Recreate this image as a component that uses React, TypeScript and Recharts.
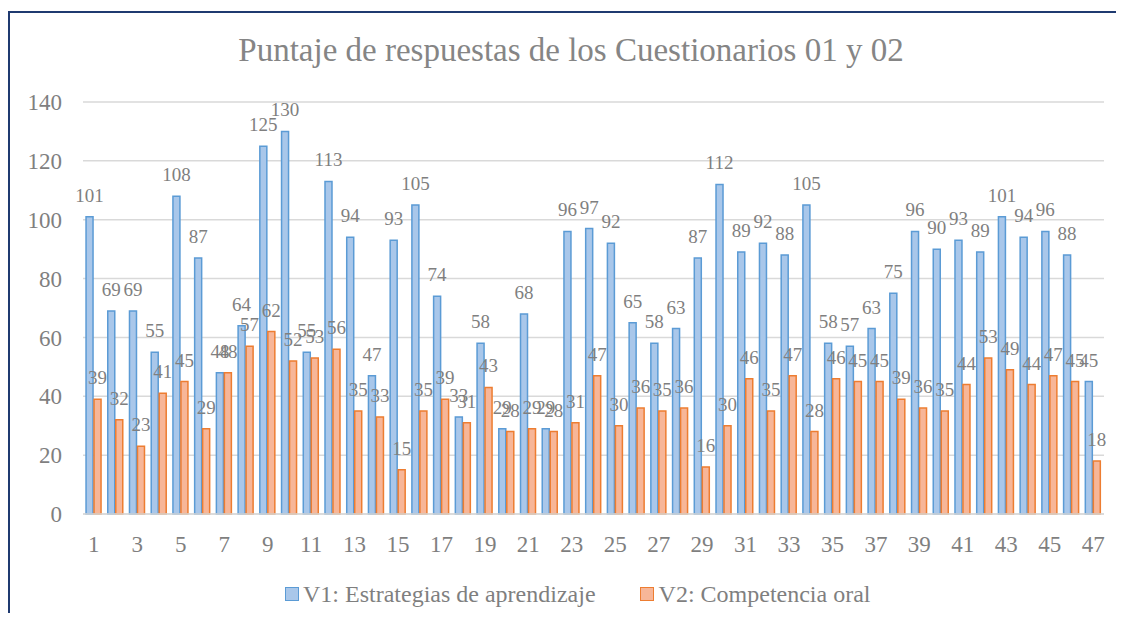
import React from "react";
import {
  Bar,
  BarChart,
  CartesianGrid,
  LabelList,
  XAxis,
  YAxis,
} from "recharts";

const categories = [
  "1", "2", "3", "4", "5", "6", "7", "8", "9", "10",
  "11", "12", "13", "14", "15", "16", "17", "18", "19", "20",
  "21", "22", "23", "24", "25", "26", "27", "28", "29", "30",
  "31", "32", "33", "34", "35", "36", "37", "38", "39", "40",
  "41", "42", "43", "44", "45", "46", "47",
];

const v1Values = [
  101, 69, 69, 55, 108, 87, 48, 64, 125, 130,
  55, 113, 94, 47, 93, 105, 74, 33, 58, 29,
  68, 29, 96, 97, 92, 65, 58, 63, 87, 112,
  89, 92, 88, 105, 58, 57, 63, 75, 96, 90,
  93, 89, 101, 94, 96, 88, 45,
];

const v2Values = [
  39, 32, 23, 41, 45, 29, 48, 57, 62, 52,
  53, 56, 35, 33, 15, 35, 39, 31, 43, 28,
  29, 28, 31, 47, 30, 36, 35, 36, 16, 30,
  46, 35, 47, 28, 46, 45, 45, 39, 36, 35,
  44, 53, 49, 44, 47, 45, 18,
];

const yTicks = [0, 20, 40, 60, 80, 100, 120, 140];

const v1Name = "V1: Estrategias de aprendizaje";
const v2Name = "V2: Competencia oral";
const title = "Puntaje de respuestas de los Cuestionarios 01 y 02";

const data = categories.map((name, i) => ({
  name,
  v1: v1Values[i],
  v2: v2Values[i],
}));

const FONT = "'Liberation Serif', 'Times New Roman', serif";
const GREY = "#7f7f7f";
const BLUE_LINE = "#5b9bd5";
const BLUE_FILL = "#a9c7ea";
const ORANGE_LINE = "#ed7d31";
const ORANGE_FILL = "#f7b698";

const App = () => {
  return (
    <div style={{ paddingTop: 3 }}>
      <div
        style={{
          position: "relative",
          width: 1114,
          height: 600,
          borderLeft: "2px solid #1f3a70",
          borderTop: "2px solid #1f3a70",
          fontFamily: FONT,
        }}
      >
        <div
          style={{
            position: "absolute",
            top: 21,
            left: 0,
            width: 1114,
            boxSizing: "border-box",
            paddingLeft: 8,
            textAlign: "center",
            fontSize: 33,
            lineHeight: "33px",
            color: "#858585",
            whiteSpace: "nowrap",
          }}
        >
          {title}
        </div>
        <BarChart
          width={1114}
          height={600}
          data={data}
          margin={{ top: 89, right: 20, bottom: 59, left: 0 }}
          barCategoryGap="14%"
          barGap={1}
        >
          <CartesianGrid vertical={false} stroke="#d9d9d9" strokeWidth={1.5} />
          <XAxis
            dataKey="name"
            interval={1}
            height={40}
            tickLine={false}
            tickSize={0}
            tickMargin={22}
            axisLine={{ stroke: "#d9d9d9", strokeWidth: 1.5 }}
            tick={{ fill: GREY, fontSize: 23, fontFamily: FONT }}
          />
          <YAxis
            width={73}
            domain={[0, 140]}
            ticks={yTicks}
            axisLine={false}
            tickLine={false}
            tickSize={0}
            tickMargin={21}
            tick={{ fill: GREY, fontSize: 23, fontFamily: FONT }}
          />
          <Bar
            dataKey="v1"
            name={v1Name}
            fill={BLUE_FILL}
            stroke={BLUE_LINE}
            strokeWidth={1.5}
            isAnimationActive={false}
          >
            <LabelList
              dataKey="v1"
              position="top"
              offset={15}
              fill={GREY}
              fontSize={19}
              fontFamily={FONT}
            />
          </Bar>
          <Bar
            dataKey="v2"
            name={v2Name}
            fill={ORANGE_FILL}
            stroke={ORANGE_LINE}
            strokeWidth={1.5}
            isAnimationActive={false}
          >
            <LabelList
              dataKey="v2"
              position="top"
              offset={15}
              fill={GREY}
              fontSize={19}
              fontFamily={FONT}
            />
          </Bar>
        </BarChart>
        <div
          style={{
            position: "absolute",
            top: 569,
            left: 275,
            display: "flex",
            alignItems: "center",
            fontSize: 24,
            lineHeight: "24px",
            color: GREY,
            whiteSpace: "nowrap",
          }}
        >
          <div
            style={{
              width: 12,
              height: 12,
              background: BLUE_FILL,
              border: `1.5px solid ${BLUE_LINE}`,
              marginRight: 4,
            }}
          />
          <span>{v1Name}</span>
          <div
            style={{
              width: 12,
              height: 12,
              background: ORANGE_FILL,
              border: `1.5px solid ${ORANGE_LINE}`,
              marginLeft: 44,
              marginRight: 5,
            }}
          />
          <span>{v2Name}</span>
        </div>
      </div>
    </div>
  );
};

export default App;
